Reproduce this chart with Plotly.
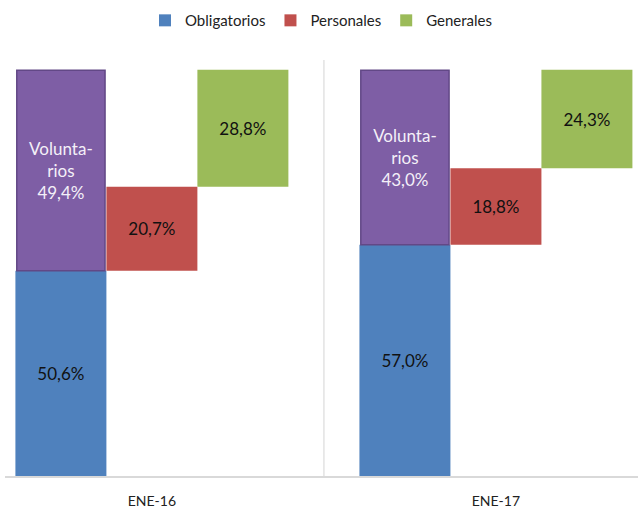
import plotly.graph_objects as go

# data (percent)
periodos = ['ENE-16', 'ENE-17']
obligatorios = [50.6, 57.0]
voluntarios = [49.4, 43.0]
personales = [20.7, 18.8]
generales = [28.8, 24.3]

FONT = 'Lato, Liberation Sans Narrow, sans-serif'
BAR_W = 0.2645


def pct(v):
    """format a value the spanish way: 49,4%"""
    return f'{v:.1f}'.replace('.', ',') + '%'


base_gen = [o + p for o, p in zip(obligatorios, personales)]

fig = go.Figure()

fig.add_trace(go.Bar(
    name='Obligatorios', x=periodos, y=obligatorios, base=[0, 0],
    width=BAR_W, offset=-1.5 * BAR_W,
    marker=dict(color='#4F81BD', line=dict(width=0)),
    text=[pct(v) for v in obligatorios], textposition='inside',
    insidetextanchor='middle',
    textfont=dict(family=FONT, size=17, color='#111111'),
))
fig.add_trace(go.Bar(
    name='Voluntarios', x=periodos, y=voluntarios, base=obligatorios,
    width=BAR_W * 0.97, offset=-1.5 * BAR_W + 0.004, showlegend=False,
    marker=dict(color='#7E5EA5', line=dict(width=1.5, color='#624886')),
    text=['Volunta-<br>rios<br>' + pct(v) for v in voluntarios],
    textposition='inside', insidetextanchor='middle',
    textfont=dict(family=FONT, size=17, color='#F4F0F8'),
))
fig.add_trace(go.Bar(
    name='Personales', x=periodos, y=personales, base=obligatorios,
    width=BAR_W, offset=-0.5 * BAR_W,
    marker=dict(color='#C0504D', line=dict(width=0)),
    text=[pct(v) for v in personales], textposition='inside',
    insidetextanchor='middle',
    textfont=dict(family=FONT, size=17, color='#111111'),
))
fig.add_trace(go.Bar(
    name='Generales', x=periodos, y=generales, base=base_gen,
    width=BAR_W, offset=0.5 * BAR_W,
    marker=dict(color='#9BBB59', line=dict(width=0)),
    text=[pct(v) for v in generales], textposition='inside',
    insidetextanchor='middle',
    textfont=dict(family=FONT, size=17, color='#111111'),
))

# light separator between the two periods
fig.add_shape(type='line', xref='x', yref='paper', x0=0.5, x1=0.5, y0=0, y1=1,
              line=dict(color='#E3E3E3', width=1.5))

fig.update_layout(
    width=638, height=511,
    barmode='overlay',
    plot_bgcolor='white', paper_bgcolor='white',
    margin=dict(l=5, r=0, t=60, b=35, autoexpand=False),
    font=dict(family=FONT, color='#333333'),
    legend=dict(orientation='h', x=0.5, xanchor='center', y=0.992, yanchor='top',
                yref='container', font=dict(size=15, color='#222222'),
                itemwidth=30, traceorder='normal'),
)
fig.update_xaxes(range=[-0.427, 1.413], showgrid=False, showline=True,
                 linecolor='#D9D9D9', linewidth=1.5, ticks='', automargin=False,
                 ticklabelstandoff=11,
                 tickfont=dict(family=FONT, size=14, color='#222222'))
fig.update_yaxes(range=[0, 102.5], showgrid=False, showticklabels=False,
                 zeroline=False, showline=False, automargin=False)

# page body has a default 8px margin, drop it so the figure sits at 0,0
fig.write_html('out.html', config={'displayModeBar': False},
               post_script="document.body.style.margin='0';window.dispatchEvent(new Event('resize'));")
